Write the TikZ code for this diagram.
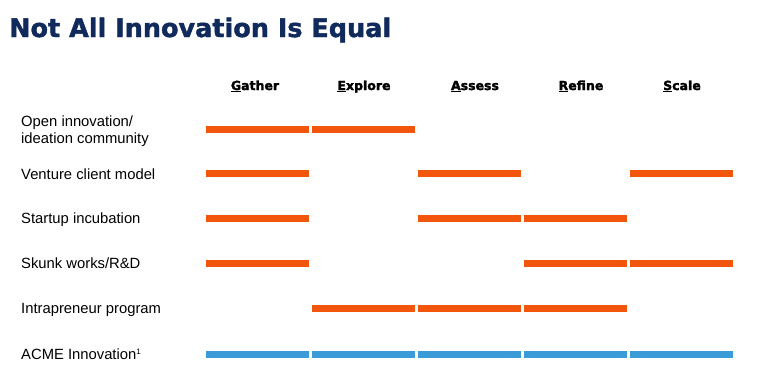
\documentclass[tikz,border=0pt]{standalone}
\usepackage{fontspec}
\setmainfont{Liberation Sans}
\newfontfamily\titlefont[FakeBold=1.6]{DejaVu Sans}
\newfontfamily\headfont[FakeBold=2]{DejaVu Sans}
\definecolor{navy}{RGB}{16,42,92}
\definecolor{barorange}{RGB}{242,86,12}
\definecolor{barblue}{RGB}{59,154,216}
\begin{document}
\begin{tikzpicture}[x=1pt,y=-1pt,
  titlestyle/.style={anchor=base west,inner sep=0pt,font=\titlefont\bfseries\fontsize{25.5}{28}\selectfont,text=navy},
  headstyle/.style={anchor=base,inner sep=0pt,font=\headfont\bfseries\fontsize{12.5}{14}\selectfont},
  rowlabel/.style={anchor=base west,inner sep=0pt,font=\fontsize{14.8}{17}\selectfont,align=left},
  obar/.style={fill=barorange,draw=none,minimum width=103pt,minimum height=7pt,inner sep=0pt},
  bbar/.style={fill=barblue,draw=none,minimum width=103pt,minimum height=7pt,inner sep=0pt}]
\useasboundingbox (0,0) rectangle (759,370);
\node[titlestyle] (title) at (9,37) {Not All Innovation Is Equal};
% headers
\node[headstyle] (hG) at (255,90) {\underline{G}ather};
\node[headstyle] (hE) at (364,90) {\underline{E}xplore};
\node[headstyle] (hA) at (475,90) {\underline{A}ssess};
\node[headstyle] (hR) at (581,90) {\underline{R}efine};
\node[headstyle] (hS) at (682,90) {\underline{S}cale};
% row labels
\node[rowlabel,anchor=west] (l1) at (21,131) {Open innovation/\\ideation community};
\node[rowlabel] (l2) at (21,179.1) {Venture client model};
\node[rowlabel] (l3) at (21,223.8) {Startup incubation};
\node[rowlabel] (l4) at (21,268.3) {Skunk works/R\&D};
\node[rowlabel] (l5) at (21,313.6) {Intrapreneur program};
\node[rowlabel] (l6) at (21,359.8) {ACME Innovation\raisebox{5pt}{\fontsize{8}{8}\selectfont 1}};
% row 1
\node[obar] (b11) at (257.5,129.3) {};
\node[obar] (b12) at (363.5,129.3) {};
% row 2
\node[obar] (b21) at (257.5,173.8) {};
\node[obar] (b23) at (469.5,173.8) {};
\node[obar] (b25) at (681.5,173.8) {};
% row 3
\node[obar] (b31) at (257.5,218.5) {};
\node[obar] (b33) at (469.5,218.5) {};
\node[obar] (b34) at (575.5,218.5) {};
% row 4
\node[obar] (b41) at (257.5,263) {};
\node[obar] (b44) at (575.5,263) {};
\node[obar] (b45) at (681.5,263) {};
% row 5
\node[obar] (b52) at (363.5,308.3) {};
\node[obar] (b53) at (469.5,308.3) {};
\node[obar] (b54) at (575.5,308.3) {};
% row 6
\node[bbar] (b61) at (257.5,354.5) {};
\node[bbar] (b62) at (363.5,354.5) {};
\node[bbar] (b63) at (469.5,354.5) {};
\node[bbar] (b64) at (575.5,354.5) {};
\node[bbar] (b65) at (681.5,354.5) {};
\end{tikzpicture}
\end{document}
